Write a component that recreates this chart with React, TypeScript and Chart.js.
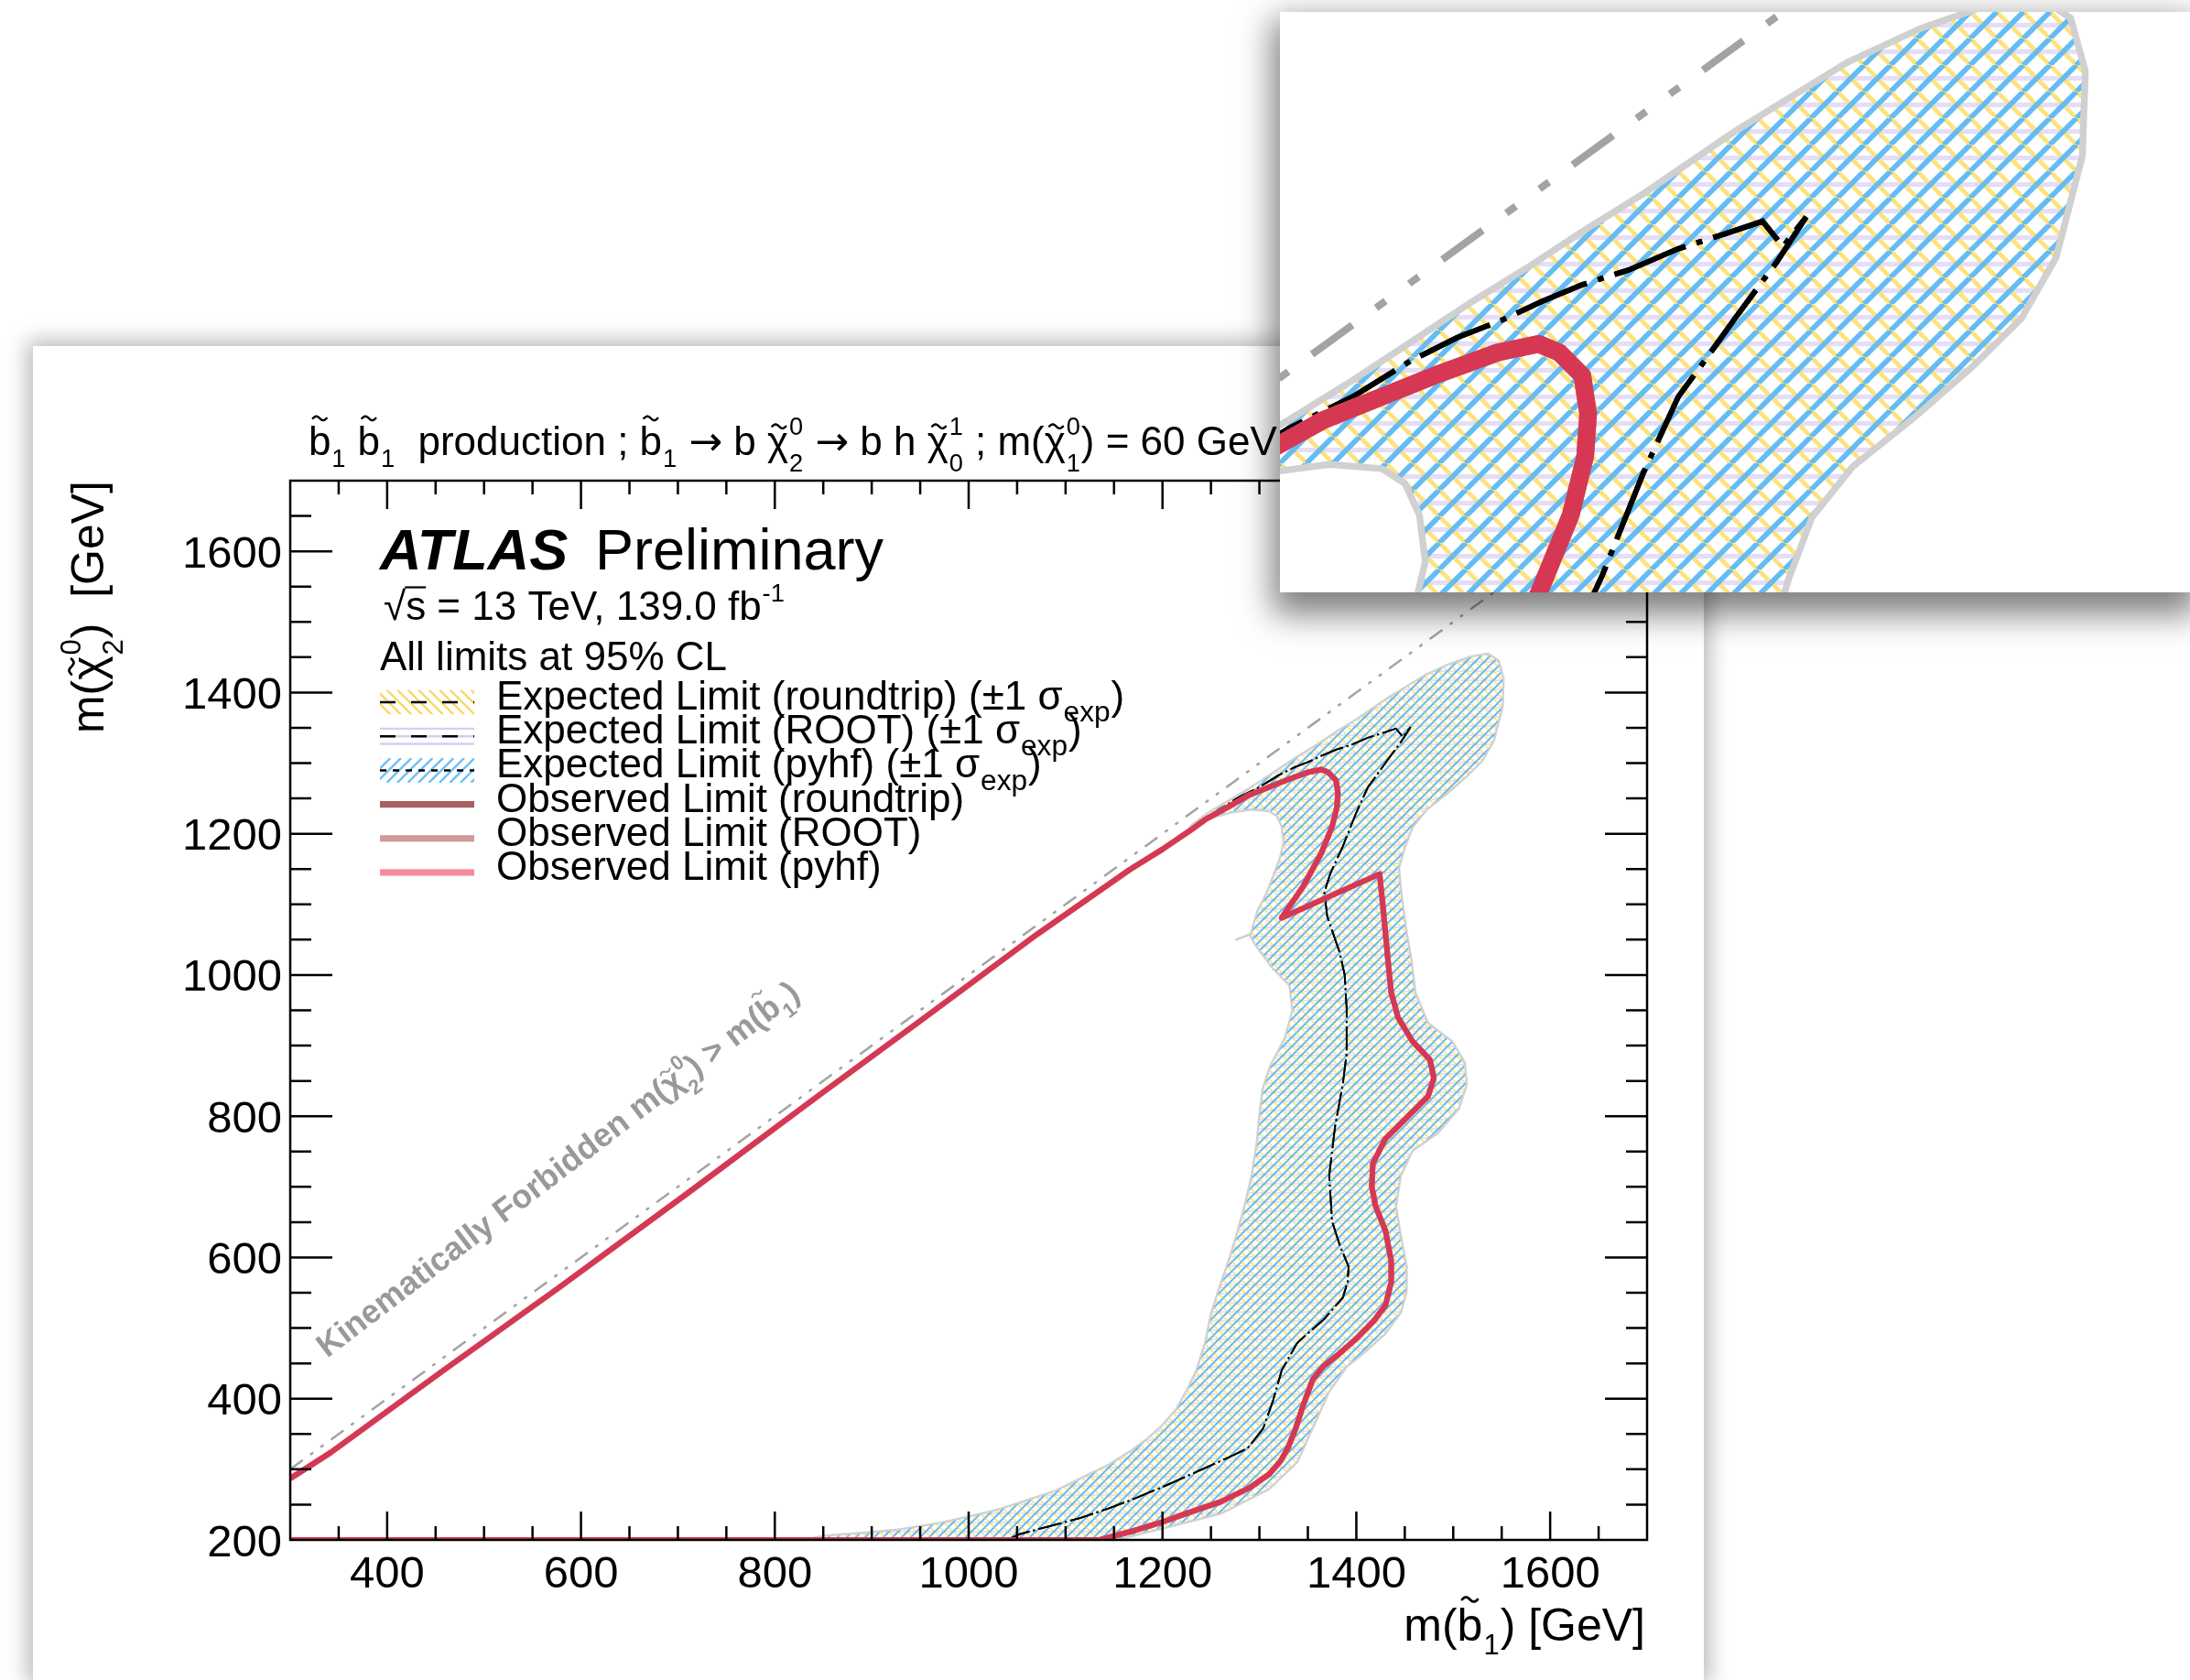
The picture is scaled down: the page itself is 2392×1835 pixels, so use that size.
import React, { useEffect, useRef } from 'react';
import { Chart, registerables } from 'chart.js';

Chart.register(...registerables);

const FONT = '"Liberation Sans", Arial, Helvetica, sans-serif';

// ---------- axis setup ----------
const xRange = [300, 1700];
const yRange = [200, 1700];
const insetXRange = [1275, 1588];
const insetYRange = [1173.5, 1448];
const xMajorTicks = [400, 600, 800, 1000, 1200, 1400, 1600];
const yMajorTicks = [200, 400, 600, 800, 1000, 1200, 1400, 1600];
const minorStep = 50;

// ---------- observed limit contour m(b1) vs m(chi2) ----------
const obsX = [300, 700, 1135, 1165, 1197, 1230, 1260, 1290, 1310, 1322, 1330, 1338, 1345, 1355, 1366, 1380, 1400, 1418, 1430, 1436, 1436, 1430, 1420, 1416, 1417, 1430, 1455, 1474, 1480, 1476, 1458, 1443, 1436, 1432, 1428, 1424, 1323, 1345, 1364, 1375, 1380, 1381, 1379, 1371, 1364, 1350, 1330, 1310, 1290, 1269, 1244, 1229, 1200, 1166, 1071, 950, 842, 711, 577, 458, 342, 300];
const obsY = [200, 200, 200, 211, 224, 240, 254, 274, 293, 312, 332, 360, 390, 427, 446, 461, 485, 510, 532, 565, 595, 638, 672, 700, 733, 768, 802, 828, 854, 880, 906, 940, 975, 1030, 1090, 1143, 1081, 1125, 1173, 1210, 1238, 1258, 1276, 1287, 1291, 1287, 1277, 1266, 1255, 1239, 1220, 1205, 1178, 1149, 1058, 935, 826, 692, 557, 440, 324, 287];

// ---------- expected limit contour ----------
const expX = [1040, 1052, 1085, 1115, 1145, 1172, 1205, 1241, 1270, 1288, 1304, 1314, 1323, 1339, 1367, 1386, 1391, 1392, 1383, 1375, 1372, 1378, 1386, 1390, 1390, 1388, 1383, 1370, 1367, 1373, 1386, 1400, 1412, 1420, 1432, 1446, 1456, 1448, 1441, 1428, 1412, 1395, 1379, 1365, 1351, 1336, 1320, 1300, 1278, 1258, 1229, 1166, 1071, 950, 842, 711, 577, 458, 342, 300];
const expY = [200, 208, 220, 231, 245, 259, 278, 300, 318, 330, 358, 397, 440, 479, 513, 543, 565, 587, 617, 651, 716, 785, 845, 889, 953, 1000, 1031, 1083, 1117, 1143, 1182, 1230, 1266, 1281, 1304, 1330, 1351, 1337, 1349, 1343, 1336, 1326, 1319, 1311, 1302, 1294, 1283, 1266, 1251, 1234, 1207, 1150, 1059, 936, 827, 693, 558, 441, 325, 288];

// ---------- expected +-1 sigma band outline (closed) ----------
const envX = [830, 851, 900, 929, 970, 999, 1030, 1055, 1090, 1118, 1145, 1166, 1185, 1200, 1214, 1225, 1235, 1244, 1250, 1258, 1268, 1276, 1285, 1292, 1297, 1300, 1303, 1311, 1326, 1334, 1331, 1312, 1296, 1290, 1276, 1291, 1298, 1307, 1314, 1321, 1325, 1323, 1318, 1310, 1292, 1270, 1248, 1228, 1245, 1262, 1278, 1298, 1318, 1340, 1360, 1380, 1400, 1432, 1470, 1495, 1518, 1536, 1547, 1552, 1551, 1542, 1530, 1513, 1493, 1472, 1458, 1450, 1444, 1447, 1452, 1457, 1461, 1474, 1499, 1512, 1514, 1506, 1484, 1458, 1446, 1441, 1446, 1452, 1452, 1446, 1430, 1408, 1390, 1372, 1355, 1339, 1310, 1260, 1197, 1159, 1155, 830];
const envY = [200, 206, 211, 215, 224, 233, 243, 254, 270, 289, 307, 325, 344, 363, 385, 412, 440, 480, 520, 555, 595, 630, 675, 716, 760, 802, 837, 871, 910, 950, 985, 1012, 1042, 1057, 1050, 1058, 1091, 1115, 1139, 1165, 1188, 1210, 1225, 1232, 1234, 1230, 1221, 1210, 1228, 1242, 1255, 1272, 1290, 1310, 1327, 1345, 1362, 1392, 1424, 1440, 1451, 1455, 1445, 1420, 1380, 1332, 1303, 1280, 1256, 1233, 1209, 1180, 1152, 1110, 1060, 1020, 975, 932, 906, 876, 845, 811, 776, 751, 716, 673, 630, 587, 552, 522, 492, 465, 445, 410, 358, 310, 272, 237, 215, 202, 200, 200];

// ---------- kinematic boundary m(chi2) = m(b1) ----------
const kinX = [300, 1700];
const kinY = [300, 1700];
const kinLabelAt = [338, 457];
const kinLabelAngleDeg = 37.3;

// ---------- colours ----------
const C_YELLOW = 'rgb(252,226,128)';
const C_BLUE = 'rgb(100,188,242)';
const C_LAV = 'rgb(228,222,247)';
const C_YELLOW_LEG = 'rgb(252,214,100)';
const C_BLUE_LEG = 'rgb(110,192,245)';
const C_LAV_LEG = 'rgb(214,206,244)';
const C_OBS_RT = '#a85f5f';
const C_OBS_ROOT = '#d19b9b';
const C_OBS_PYHF = 'rgba(214,40,72,0.86)';
const C_OBS_PYHF_LEG = '#f58a9c';

type Tok = { t: string; tilde?: number; sub?: string; sup?: string; ss?: number; subDy?: number; supDy?: number; over?: boolean; bold?: boolean; italic?: boolean; ff?: string };

const B1: Tok = { t: 'b', tilde: 1, sub: '1', subDy: 0.3 };
const chi = (sup: string, sub: string): Tok => ({ t: 'χ', tilde: 2, sup, sub, subDy: 0.42, supDy: -0.5 });
const ARROW: Tok = { t: '→', ff: '"DejaVu Sans", sans-serif' };

const titleToks: Tok[] = [B1, { t: ' ' }, B1, { t: '  production ; ' }, B1, { t: ' ' }, ARROW, { t: ' b ' }, chi('0', '2'), { t: ' ' }, ARROW, { t: ' b h ' }, chi('1', '0'), { t: ' ; m(' }, chi('0', '1'), { t: ') = 60 GeV' }];
const yTitleToks: Tok[] = [{ t: 'm(' }, chi('0', '2'), { t: ')  [GeV]' }];
const xTitleToks: Tok[] = [{ t: 'm(' }, B1, { t: ') [GeV]' }];
const kinLabelToks: Tok[] = [{ t: 'Kinematically Forbidden m(' }, chi('0', '2'), { t: ') > m(' }, B1, { t: ')' }];
const sqrtsToks: Tok[] = [{ t: '√' }, { t: 's', over: true }, { t: ' = 13 TeV, 139.0 fb', sup: '-1', supDy: -0.45 }];
const clToks: Tok[] = [{ t: 'All limits at 95% CL' }];
const sig = (name: string): Tok[] => [{ t: `Expected Limit (${name}) (±1 σ`, sub: 'exp', ss: 0.72, subDy: 0.3 }, { t: ')' }];

const legendItems = [
  { toks: sig('roundtrip'), kind: 'band', hatch: 'back', color: C_YELLOW_LEG, dash: [17, 17] },
  { toks: sig('ROOT'), kind: 'band', hatch: 'horiz', color: C_LAV_LEG, dash: [17, 17] },
  { toks: sig('pyhf'), kind: 'band', hatch: 'fwd', color: C_BLUE_LEG, dash: [7, 7] },
  { toks: [{ t: 'Observed Limit (roundtrip)' }], kind: 'line', color: C_OBS_RT, dash: [] },
  { toks: [{ t: 'Observed Limit (ROOT)' }], kind: 'line', color: C_OBS_ROOT, dash: [] },
  { toks: [{ t: 'Observed Limit (pyhf)' }], kind: 'line', color: C_OBS_PYHF_LEG, dash: [] },
];

function fnt(size: number, bold = false, italic = false, ff = FONT) {
  return `${italic ? 'italic ' : ''}${bold ? 'bold ' : ''}${size}px ${ff}`;
}

function measureRich(ctx: CanvasRenderingContext2D, toks: Tok[], size: number, bold = false, italic = false) {
  let w = 0;
  for (const k of toks) {
    const b = k.bold ?? bold, it = k.italic ?? italic;
    ctx.font = fnt(size, b, it, k.ff ?? FONT);
    w += ctx.measureText(k.t).width;
    if (k.sub || k.sup) {
      const ss = k.ss ?? 0.62;
      ctx.font = fnt(size * ss, b, it);
      const sw = Math.max(k.sub ? ctx.measureText(k.sub).width : 0, k.sup ? ctx.measureText(k.sup).width : 0);
      w += sw + size * 0.04;
    }
  }
  return w;
}

function drawTilde(ctx: CanvasRenderingContext2D, cx: number, cy: number, w: number, h: number, lw: number) {
  ctx.beginPath();
  const n = 18;
  for (let i = 0; i <= n; i++) {
    const t = i / n;
    const x = cx - w / 2 + t * w;
    const y = cy - (h / 2) * Math.sin(2 * Math.PI * t);
    if (i === 0) ctx.moveTo(x, y); else ctx.lineTo(x, y);
  }
  ctx.lineWidth = lw;
  ctx.lineCap = 'round';
  ctx.stroke();
}

function drawRich(ctx: CanvasRenderingContext2D, toks: Tok[], x: number, y: number, size: number, align = 'left', color = '#000', bold = false, italic = false) {
  const total = measureRich(ctx, toks, size, bold, italic);
  let cx = align === 'left' ? x : align === 'right' ? x - total : x - total / 2;
  ctx.fillStyle = color;
  ctx.strokeStyle = color;
  ctx.textAlign = 'left';
  ctx.textBaseline = 'alphabetic';
  for (const k of toks) {
    const b = k.bold ?? bold, it = k.italic ?? italic;
    ctx.font = fnt(size, b, it, k.ff ?? FONT);
    const bw = ctx.measureText(k.t).width;
    ctx.fillText(k.t, cx, y);
    if (k.tilde) {
      const ty = k.tilde === 1 ? y - 0.9 * size : y - 0.7 * size;
      drawTilde(ctx, cx + bw / 2 + (k.tilde === 2 ? size * 0.03 : 0), ty, size * 0.34, size * 0.1, size * 0.055);
    }
    if (k.over) {
      ctx.beginPath();
      ctx.lineWidth = size * 0.05;
      ctx.lineCap = 'butt';
      ctx.moveTo(cx - size * 0.02, y - 0.8 * size);
      ctx.lineTo(cx + bw, y - 0.8 * size);
      ctx.stroke();
    }
    cx += bw;
    if (k.sub || k.sup) {
      const ss = k.ss ?? 0.62;
      ctx.font = fnt(size * ss, b, it);
      const sw = Math.max(k.sub ? ctx.measureText(k.sub).width : 0, k.sup ? ctx.measureText(k.sup).width : 0);
      if (k.sup) ctx.fillText(k.sup, cx + size * 0.02, y + (k.supDy ?? -0.45) * size);
      if (k.sub) ctx.fillText(k.sub, cx + size * 0.02, y + (k.subDy ?? 0.28) * size);
      cx += sw + size * 0.04;
    }
  }
}

function makePattern(kind: string, color: string, s: number, lw: number) {
  const c = document.createElement('canvas');
  c.width = s;
  c.height = s;
  const g = c.getContext('2d')!;
  g.strokeStyle = color;
  g.lineWidth = lw;
  g.beginPath();
  if (kind === 'fwd') {
    for (const k of [-1, 0, 1]) { g.moveTo(k * s, s); g.lineTo(k * s + s, 0); }
  } else if (kind === 'back') {
    for (const k of [-1, 0, 1]) { g.moveTo(k * s, 0); g.lineTo(k * s + s, s); }
  } else {
    g.moveTo(0, s / 2); g.lineTo(s, s / 2);
  }
  g.stroke();
  return g.createPattern(c, 'repeat')!;
}

function hatchBox(ctx: CanvasRenderingContext2D, x: number, y: number, w: number, h: number, kind: string, color: string) {
  ctx.save();
  ctx.beginPath();
  ctx.rect(x, y, w, h);
  ctx.clip();
  ctx.strokeStyle = color;
  ctx.lineWidth = 2.4;
  ctx.beginPath();
  if (kind === 'horiz') {
    for (const dy of [-8.3, 0, 8.3]) { ctx.moveTo(x, y + h / 2 + dy); ctx.lineTo(x + w, y + h / 2 + dy); }
  } else {
    const sp = 11.5;
    for (let i = -h; i < w + h; i += sp) {
      if (kind === 'back') { ctx.moveTo(x + i, y); ctx.lineTo(x + i + h, y + h); }
      else { ctx.moveTo(x + i, y + h); ctx.lineTo(x + i + h, y); }
    }
  }
  ctx.stroke();
  ctx.restore();
}

const pts = (xs: number[], ys: number[]) => xs.map((x, i) => ({ x, y: ys[i] }));

function buildDatasets(k: number, s: number, hlw: number) {
  const base = { showLine: true, pointRadius: 0, pointHoverRadius: 0, tension: 0 };
  const pLav = makePattern('horiz', C_LAV, s, hlw);
  const pYel = makePattern('back', C_YELLOW, s, hlw * 0.9);
  const pBlue = makePattern('fwd', C_BLUE, s, hlw * 1.1);
  const expDash = [26, 4, 2, 4].map((d) => d * k);
  const expW = 1.8 * k;
  return [
    { ...base, label: 'Expected Limit (ROOT) ±1σ', data: pts(envX, envY), fill: 'shape', backgroundColor: pLav, borderColor: 'rgba(0,0,0,0)', borderWidth: 0, order: 10 },
    { ...base, label: 'Expected Limit (roundtrip) ±1σ', data: pts(envX, envY), fill: 'shape', backgroundColor: pYel, borderColor: 'rgba(0,0,0,0)', borderWidth: 0, order: 9 },
    { ...base, label: 'Expected Limit (pyhf) ±1σ', data: pts(envX, envY), fill: 'shape', backgroundColor: pBlue, borderColor: '#d0d0d0', borderWidth: 2.3 * k, borderJoinStyle: 'round', order: 8 },
    { ...base, label: 'Kinematic limit', data: pts(kinX, kinY), fill: false, borderColor: '#a3a3a3', borderWidth: 2.5 * k, borderDash: [17, 10, 4, 10, 4, 10].map((d) => d * k), order: 7 },
    { ...base, label: 'Expected Limit (ROOT)', data: pts(expX, expY), fill: false, borderColor: 'rgba(0,0,0,0.85)', borderWidth: expW, borderDash: expDash, order: 6 },
    { ...base, label: 'Expected Limit (roundtrip)', data: pts(expX, expY), fill: false, borderColor: 'rgba(0,0,0,0.85)', borderWidth: expW, borderDash: expDash, order: 5 },
    { ...base, label: 'Expected Limit (pyhf)', data: pts(expX, expY), fill: false, borderColor: 'rgba(0,0,0,0.85)', borderWidth: expW, borderDash: expDash, order: 4 },
    { ...base, label: 'Observed Limit (roundtrip)', data: pts(obsX, obsY), fill: false, borderColor: C_OBS_RT, borderWidth: 6 * k, borderJoinStyle: 'round', order: 3 },
    { ...base, label: 'Observed Limit (ROOT)', data: pts(obsX, obsY), fill: false, borderColor: C_OBS_ROOT, borderWidth: 6 * k, borderJoinStyle: 'round', order: 2 },
    { ...base, label: 'Observed Limit (pyhf)', data: pts(obsX, obsY), fill: false, borderColor: C_OBS_PYHF, borderWidth: 6 * k, borderJoinStyle: 'round', order: 1 },
  ];
}

const mainDecor = {
  id: 'mainDecor',
  afterDatasetsDraw(chart: any) {
    const { ctx, chartArea: a } = chart;
    const xs = chart.scales.x;
    const ys = chart.scales.y;
    ctx.save();

    // kinematic label
    ctx.save();
    ctx.translate(xs.getPixelForValue(kinLabelAt[0]), ys.getPixelForValue(kinLabelAt[1]));
    ctx.rotate((-kinLabelAngleDeg * Math.PI) / 180);
    drawRich(ctx, kinLabelToks, 0, 0, 36, 'left', '#999999', true);
    ctx.restore();

    // frame and ticks
    ctx.strokeStyle = '#000';
    ctx.lineWidth = 2.5;
    ctx.lineCap = 'butt';
    ctx.strokeRect(a.left, a.top, a.right - a.left, a.bottom - a.top);
    ctx.beginPath();
    for (let v = xRange[0] + minorStep; v < xRange[1]; v += minorStep) {
      const px = xs.getPixelForValue(v);
      const L = xMajorTicks.includes(v) ? 31 : 15;
      ctx.moveTo(px, a.bottom); ctx.lineTo(px, a.bottom - L);
      ctx.moveTo(px, a.top); ctx.lineTo(px, a.top + L);
    }
    for (let v = yRange[0] + minorStep; v < yRange[1]; v += minorStep) {
      const py = ys.getPixelForValue(v);
      const L = yMajorTicks.includes(v) ? 46 : 23;
      ctx.moveTo(a.left, py); ctx.lineTo(a.left + L, py);
      ctx.moveTo(a.right, py); ctx.lineTo(a.right - L, py);
    }
    ctx.stroke();

    // tick labels
    ctx.fillStyle = '#000';
    ctx.font = fnt(49);
    ctx.textBaseline = 'alphabetic';
    ctx.textAlign = 'center';
    xMajorTicks.forEach((v) => ctx.fillText(String(v), xs.getPixelForValue(v), a.bottom + 52));
    ctx.textAlign = 'right';
    yMajorTicks.forEach((v) => ctx.fillText(String(v), a.left - 9, ys.getPixelForValue(v) + 17.5));

    // axis titles
    drawRich(ctx, xTitleToks, a.right - 2, a.bottom + 110, 50, 'right');
    ctx.save();
    ctx.translate(a.left - 204, a.top);
    ctx.rotate(-Math.PI / 2);
    drawRich(ctx, yTitleToks, 0, 0, 50, 'right');
    ctx.restore();

    // title
    drawRich(ctx, titleToks, a.left + 20, a.top - 28.5, 44, 'left');

    // ATLAS label
    drawRich(ctx, [{ t: 'ATLAS', bold: true, italic: true }], a.left + 98, a.top + 96.7, 63, 'left');
    drawRich(ctx, [{ t: 'Preliminary' }], a.left + 333, a.top + 96.7, 63, 'left');
    drawRich(ctx, sqrtsToks, a.left + 102, a.top + 151.7, 44, 'left');
    drawRich(ctx, clToks, a.left + 98, a.top + 206.7, 44, 'left');

    // legend
    const lx = a.left + 98;
    const lw = 103;
    legendItems.forEach((it, i) => {
      const base = a.top + 250 + i * 37.2;
      const cy = base - 8;
      if (it.kind === 'band') {
        hatchBox(ctx, lx, cy - 13.5, lw, 27, it.hatch as string, it.color);
        ctx.save();
        ctx.strokeStyle = '#000';
        ctx.lineWidth = 2.5;
        ctx.setLineDash(it.dash);
        ctx.beginPath();
        ctx.moveTo(lx, cy); ctx.lineTo(lx + lw, cy);
        ctx.stroke();
        ctx.restore();
      } else {
        ctx.fillStyle = it.color;
        ctx.fillRect(lx, cy - 3.6, lw, 7.2);
      }
      drawRich(ctx, it.toks, a.left + 225, base, 44, 'left');
    });

    ctx.restore();
  },
};

function makeConfig(k: number, s: number, hlw: number, xr: number[], yr: number[], padding: any, plugins: any[]) {
  return {
    type: 'scatter',
    data: { datasets: buildDatasets(k, s, hlw) },
    options: {
      animation: false,
      responsive: false,
      devicePixelRatio: 1,
      events: [],
      layout: { padding },
      scales: {
        x: { type: 'linear', min: xr[0], max: xr[1], display: false },
        y: { type: 'linear', min: yr[0], max: yr[1], display: false },
      },
      plugins: { legend: { display: false }, tooltip: { enabled: false } },
    },
    plugins,
  } as any;
}

export default function App() {
  const mainRef = useRef<HTMLCanvasElement>(null);
  const insetRef = useRef<HTMLCanvasElement>(null);

  useEffect(() => {
    const c1 = new Chart(mainRef.current!, makeConfig(1, 10, 1.8, xRange, yRange, { left: 281, top: 147, right: 62, bottom: 153 }, [mainDecor]));
    const c2 = new Chart(insetRef.current!, makeConfig(3.2, 29, 5.2, insetXRange, insetYRange, 0, []));
    return () => {
      c1.destroy();
      c2.destroy();
    };
  }, []);

  return (
    <div style={{ position: 'absolute', left: 0, top: 0, width: 2392, height: 1835, overflow: 'hidden', background: '#fff' }}>
      <div style={{ position: 'absolute', left: 36, top: 378, width: 1825, height: 1457, background: '#fff', boxShadow: '0 0 22px 6px rgba(0,0,0,0.28)' }}>
        <canvas ref={mainRef} width={1825} height={1457} style={{ display: 'block', width: 1825, height: 1457 }} />
      </div>
      <div style={{ position: 'absolute', left: 1398, top: 13, width: 994, height: 634, background: '#fff', boxShadow: '0 16px 34px 8px rgba(0,0,0,0.5)', zIndex: 2 }}>
        <canvas ref={insetRef} width={994} height={634} style={{ display: 'block', width: 994, height: 634 }} />
      </div>
    </div>
  );
}
